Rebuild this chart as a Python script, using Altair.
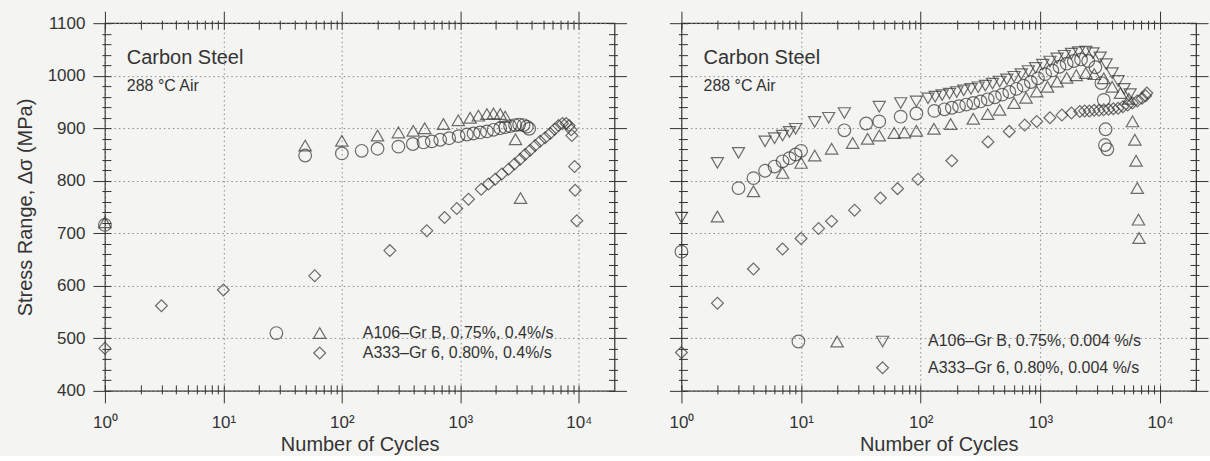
import json
import altair as alt
import pandas as pd

FONT = "Liberation Sans"
INK = "#333333"
PAPER = "#f4f4f2"

# ---------------- left panel: 0.4 %/s strain rate ----------------
# A106-Gr B, specimen 1 (circles)
L_A106_1_N = [1, 49, 100, 147, 200, 300, 397, 489, 574, 676, 805, 966, 1135, 1292,
              1469, 1675, 1905, 2168, 2388, 2630, 2900, 3135, 3413, 3640, 3810]
L_A106_1_S = [716, 848, 852, 857, 861, 865, 870, 873, 875, 878, 881, 885, 888, 890,
              892, 894, 897, 900, 902, 904, 906, 907, 906, 903, 899]
# A106-Gr B, specimen 2 (triangles)
L_A106_2_N = [1, 49, 100, 200, 300, 400, 500, 720, 960, 1210, 1420, 1675, 1905, 2170,
              2390, 2920, 3220]
L_A106_2_S = [721, 867, 876, 886, 892, 895, 900, 908, 915, 920, 924, 927, 928, 927,
              922, 879, 767]
# A333-Gr 6 (diamonds)
L_A333_N = [1, 3, 10, 59, 254, 521, 736, 933, 1172, 1500, 1730, 1968, 2239, 2553, 2864,
            3199, 3524, 3882, 4276, 4710, 5200, 5728, 6237, 6745, 7278, 7816, 8279,
            8610, 8730, 9204, 9311, 9616]
L_A333_S = [481, 562, 592, 619, 667, 705, 730, 747, 765, 784, 794, 803, 813, 822, 832,
            841, 850, 858, 867, 875, 882, 890, 898, 905, 909, 909, 905, 897, 886, 827,
            782, 724]

# ---------------- right panel: 0.004 %/s strain rate ----------------
R_A106_1_N = [1, 3, 4, 5, 6, 7, 8, 9, 10, 23, 35, 45, 68, 92, 130, 158, 182, 209, 240,
              275, 316, 363, 417, 479, 550, 631, 724, 832, 955, 1096, 1259, 1445, 1660,
              1905, 2188, 2512, 2884, 3236, 3388, 3508, 3467, 3630]
R_A106_1_S = [665, 786, 805, 819, 827, 837, 843, 850, 857, 896, 909, 913, 922, 928, 933,
              936, 939, 942, 945, 948, 951, 955, 959, 964, 969, 975, 981, 988, 995, 1003,
              1010, 1017, 1023, 1028, 1031, 1028, 1016, 986, 954, 898, 868, 860]
R_A106_2_N = [2, 4, 7, 10, 13, 18, 27, 36, 45, 60, 73, 92, 129, 178, 275, 363, 457, 603,
              759, 933, 1148, 1380, 1660, 1995, 2399, 2818, 3388, 3981, 4677, 5495, 5888,
              6166, 6310, 6457, 6607, 6683]
R_A106_2_S = [732, 780, 815, 834, 848, 861, 872, 880, 886, 891, 892, 895, 899, 908, 918,
              927, 935, 948, 958, 970, 979, 989, 996, 1001, 1005, 1003, 995, 979, 967,
              956, 913, 878, 838, 786, 726, 691]
R_A106_3_N = [1, 2, 3, 5, 6, 7, 8, 9, 13, 17, 23, 45, 68, 92, 115, 132, 151, 174, 200,
              229, 263, 302, 347, 398, 457, 525, 603, 692, 794, 912, 1047, 1202, 1380,
              1585, 1820, 2089, 2399, 2754, 3162, 3548, 3981, 4467, 5012, 5623]
R_A106_3_S = [730, 834, 853, 875, 881, 886, 893, 899, 912, 920, 929, 941, 948, 951, 957,
              960, 963, 966, 969, 972, 975, 978, 981, 985, 989, 993, 998, 1003, 1009,
              1015, 1021, 1027, 1033, 1038, 1042, 1045, 1046, 1043, 1035, 1022, 1005,
              990, 975, 965]
R_A333_N = [1, 2, 4, 7, 10, 14, 18, 28, 46, 64, 95, 182, 365, 550, 740, 933, 1202, 1514,
            1820, 2138, 2344, 2570, 2818, 3090, 3388, 3715, 4074, 4467, 4898, 5370, 5888,
            6457, 7079, 7586, 7762]
R_A333_S = [473, 567, 632, 670, 690, 709, 723, 744, 767, 785, 803, 838, 874, 894, 906,
            913, 920, 925, 929, 932, 933, 933, 934, 934, 935, 936, 937, 938, 941, 944,
            948, 952, 957, 962, 967]

# ---------------- in-panel legends and captions ----------------
L_KEY_SERIES = ["A106 #1", "A106 #2", "A333"]
L_KEY_N = [28, 65, 65]
L_KEY_S = [510, 510, 472]
L_LEGEND_TEXT = ["A106–Gr B, 0.75%, 0.4%/s", "A333–Gr 6, 0.80%, 0.4%/s"]
L_LEGEND_N = [150, 150]
L_LEGEND_S = [510, 472]

R_KEY_SERIES = ["A106 #1", "A106 #2", "A106 #3", "A333"]
R_KEY_N = [9.5, 20, 48, 48]
R_KEY_S = [494, 494, 494, 444]
R_LEGEND_TEXT = ["A106–Gr B, 0.75%, 0.004 %/s", "A333–Gr 6, 0.80%, 0.004 %/s"]
R_LEGEND_N = [115, 115]
R_LEGEND_S = [494, 444]

CAPTION = ["Carbon Steel", "288 °C Air"]
CAPTION_N = [1.53, 1.53]
CAPTION_S = [1034, 980]

# ---------------- scales / axes ----------------
SERIES = ["A106 #1", "A106 #2", "A106 #3", "A333"]
SHAPES = ["circle", "triangle-up", "triangle-down", "diamond"]
SIZES = [160, 140, 140, 100]

X_DECADES = [1, 10, 100, 1000, 10000]
X_TICK_LABELS = ["10⁰", "10¹", "10²", "10³", "10⁴"]
X_TICKS = [m * d for d in X_DECADES for m in range(1, 10) if m * d < 20000]
Y_TICKS = list(range(400, 1101, 20))

x_major = "indexof(%s, datum.value) >= 0" % json.dumps(X_DECADES)
x_label_expr = "%s ? %s[indexof(%s, datum.value)] : ''" % (
    x_major, json.dumps(X_TICK_LABELS, ensure_ascii=False), json.dumps(X_DECADES))
y_major = "datum.value % 100 == 0"

x_scale = alt.Scale(type="log", domain=[1, 20000], nice=False)
y_scale = alt.Scale(domain=[400, 1100], nice=False, zero=False)
shape_scale = alt.Scale(domain=SERIES, range=SHAPES)
size_scale = alt.Scale(domain=SERIES, range=SIZES)

TICK_OFFSET = -6


def x_axis(orient, with_labels):
    kw = dict(
        orient=orient, values=X_TICKS, domain=False, offset=TICK_OFFSET,
        tickSize={"condition": {"test": x_major, "value": 18}, "value": 9},
        tickColor=INK, tickWidth=1,
        labelOverlap=False, labelFlush=False,
    )
    if with_labels:
        kw.update(
            labelExpr=x_label_expr, labelFont=FONT, labelFontSize=17, labelColor=INK,
            labelPadding=12, title="Number of Cycles", titleFont=FONT, titleFontSize=20,
            titleFontWeight="normal", titleColor=INK, titlePadding=4,
            grid=True, gridDash=[1.5, 3], gridColor="#8a8a8a", gridWidth=1,
            gridOpacity={"condition": {"test": x_major, "value": 1}, "value": 0},
        )
    else:
        kw.update(labels=False, title=None, grid=False)
    return alt.Axis(**kw)


def y_axis(orient, with_labels, with_grid):
    kw = dict(
        orient=orient, values=Y_TICKS, domain=False, offset=TICK_OFFSET,
        tickSize={"condition": {"test": y_major, "value": 18}, "value": 9},
        tickColor=INK, tickWidth=1, labelOverlap=False, labelFlush=False,
    )
    if with_labels:
        kw.update(
            format="d", labelExpr="%s ? datum.label : ''" % y_major,
            labelFont=FONT, labelFontSize=17, labelColor=INK, labelPadding=8,
            title="Stress Range, Δσ (MPa)", titleFont=FONT, titleFontSize=20,
            titleFontWeight="normal", titleColor=INK, titlePadding=12,
        )
    else:
        kw.update(labels=False, title=None)
    if with_grid:
        kw.update(
            grid=True, gridDash=[1.5, 3], gridColor="#8a8a8a", gridWidth=1,
            gridOpacity={"condition": {"test": y_major, "value": 1}, "value": 0},
        )
    else:
        kw.update(grid=False)
    return alt.Axis(**kw)


def frame(series_cols):
    rows = []
    for name, ns, ss in series_cols:
        rows += [{"series": name, "N": n, "S": s} for n, s in zip(ns, ss)]
    return pd.DataFrame(rows)


def panel(points, keys, legend, left_labels, width):
    marks = alt.Chart(points).mark_point(filled=False, strokeWidth=1.2, color=INK).encode(
        x=alt.X("N:Q", scale=x_scale, axis=x_axis("bottom", True)),
        y=alt.Y("S:Q", scale=y_scale, axis=y_axis("left", left_labels, True)),
        shape=alt.Shape("series:N", scale=shape_scale, legend=None),
        size=alt.Size("series:N", scale=size_scale, legend=None),
    )
    mirror = alt.Chart(points).mark_point(opacity=0).encode(
        x=alt.X("N:Q", scale=x_scale, axis=x_axis("top", False)),
        y=alt.Y("S:Q", scale=y_scale, axis=y_axis("right", False, False)),
    )
    key_marks = alt.Chart(keys).mark_point(filled=False, strokeWidth=1.2, color=INK).encode(
        x=alt.X("N:Q", scale=x_scale, axis=None),
        y=alt.Y("S:Q", scale=y_scale, axis=None),
        shape=alt.Shape("series:N", scale=shape_scale, legend=None),
        size=alt.Size("series:N", scale=size_scale, legend=None),
    )
    legend_text = alt.Chart(legend).mark_text(
        align="left", baseline="middle", font=FONT, fontSize=16, color=INK
    ).encode(
        x=alt.X("N:Q", scale=x_scale, axis=None),
        y=alt.Y("S:Q", scale=y_scale, axis=None),
        text="text:N",
    )
    cap = pd.DataFrame({"N": CAPTION_N, "S": CAPTION_S, "text": CAPTION})
    title_text = alt.Chart(cap.iloc[[0]]).mark_text(
        align="left", baseline="middle", font=FONT, fontSize=20, color=INK
    ).encode(
        x=alt.X("N:Q", scale=x_scale, axis=None),
        y=alt.Y("S:Q", scale=y_scale, axis=None),
        text="text:N",
    )
    sub_text = alt.Chart(cap.iloc[[1]]).mark_text(
        align="left", baseline="middle", font=FONT, fontSize=16, color=INK
    ).encode(
        x=alt.X("N:Q", scale=x_scale, axis=None),
        y=alt.Y("S:Q", scale=y_scale, axis=None),
        text="text:N",
    )
    return alt.layer(marks, mirror, key_marks, legend_text, title_text, sub_text).resolve_axis(
        x="independent", y="independent"
    ).properties(width=width, height=368)


left_points = frame([
    ("A106 #1", L_A106_1_N, L_A106_1_S),
    ("A106 #2", L_A106_2_N, L_A106_2_S),
    ("A333", L_A333_N, L_A333_S),
])
right_points = frame([
    ("A106 #1", R_A106_1_N, R_A106_1_S),
    ("A106 #2", R_A106_2_N, R_A106_2_S),
    ("A106 #3", R_A106_3_N, R_A106_3_S),
    ("A333", R_A333_N, R_A333_S),
])
left_keys = pd.DataFrame({"series": L_KEY_SERIES, "N": L_KEY_N, "S": L_KEY_S})
right_keys = pd.DataFrame({"series": R_KEY_SERIES, "N": R_KEY_N, "S": R_KEY_S})
left_legend = pd.DataFrame({"N": L_LEGEND_N, "S": L_LEGEND_S, "text": L_LEGEND_TEXT})
right_legend = pd.DataFrame({"N": R_LEGEND_N, "S": R_LEGEND_S, "text": R_LEGEND_TEXT})

chart = alt.hconcat(
    panel(left_points, left_keys, left_legend, True, 510),
    panel(right_points, right_keys, right_legend, False, 515),
    spacing=39,
).properties(
    padding={"left": 14, "top": 9, "right": 0, "bottom": 0},
    background=PAPER,
).configure_view(stroke="#2e2e2e", strokeWidth=1.2)

chart.save("out.html", embed_options={"renderer": "svg", "actions": False})
